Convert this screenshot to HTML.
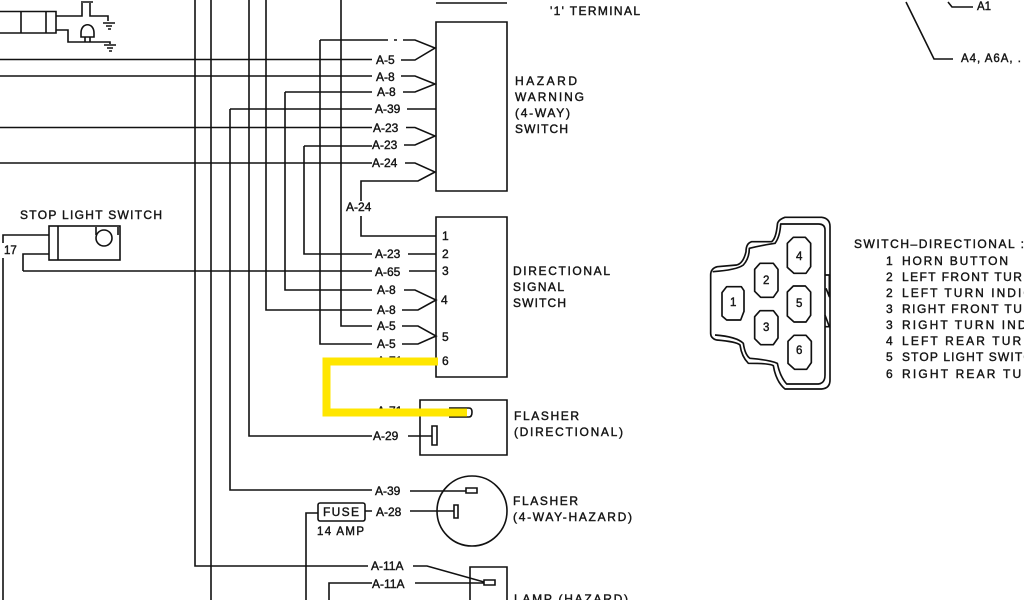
<!DOCTYPE html>
<html><head><meta charset="utf-8"><style>
html,body{margin:0;padding:0;background:#fff;width:1024px;height:600px;overflow:hidden}
svg{display:block}
text{font-family:"Liberation Sans",sans-serif;font-size:12px;fill:#141414;font-weight:400;stroke:#141414;stroke-width:.4}
.w{fill:none;stroke:#111;stroke-width:1.6}
.n{font-size:11.5px}
.all{filter:blur(.35px)}
</style></head><body>
<svg width="1024" height="600" viewBox="0 0 1024 600" xmlns="http://www.w3.org/2000/svg">
<rect width="1024" height="600" fill="#fff"/>
<g class="all">
<g class="w">
<path d="M195 0V566H368M211 0V600M249 0V436H372M266 0V310H372M230 109V490H372M285 92V290H372M304 146V254H372M320 40V344H372M341 0V326H372"/>
<path d="M230 109H372M285 92H372M304 146H372M320 40H388M394 40H397M403 40H415L435 48L415 60H401M0 59.500H372"/>
<path d="M0 76H372M401 76H415L435 84L415 92H403M0 127.500H372M0 163H372M407 109H436"/>
<path d="M406 127.500H415L435 136L415 145H404M405 163H415L435 172L418 181H361V201M361 216V236H436M408 254H436M409 271H436M23 271H372"/>
<path d="M404 290H415L436 300L418 310H402M402 326H418L436 336L418 344H402"/>
<path d="M436 3H507M436 22H507V191H436ZM436 217H507V377H436ZM420 400H507V455H420ZM470 600V567H507V600"/>
<circle cx="472" cy="511" r="35"/>
<path d="M408 436H432M432 426h5v19h-5zM449 408H469Q472 408 472 412Q472 417 469 417H449M410 491H466M466 488h11v5h-11zM410 511H454M454 505h4v13h-4z"/>
<rect x="318" y="503" width="47" height="18" rx="2"/>
<path d="M318 513H306V600M365 511H372M413 566H427L484 582M415 583H484M484 580h11v5h-11zM372 583H329V600"/>
<rect x="49" y="226" width="71" height="34"/><path d="M58 226V260M96 227v8M118 227v8M3 243V235H49M3 258V600M49 254H23V271"/>
<circle cx="104" cy="238" r="8"/>
<path d="M0 11.500H56V33H0M21 11.500V33M46 11.500V33M56 16H82V3M81 2H93M90 3V16H108V21M56 30H68V42H110V44M103 23h12M106 26h6M108 29h3M104 45h12M107 48h6M109 51h3"/>
<path d="M81 33C81 22 94 22 94 33V37H81ZM85 37V42M90 37V42"/>
<path d="M906 2L934 59H953M948 2L952 7H973"/>
</g>
<text x="377" y="365" fill-opacity=".9">A-71</text>
<text x="377" y="415">A-71</text>
<path d="M438 361.500H326.500V412.500H467" fill="none" stroke="#ffe600" stroke-width="8"/>
<text x="376" y="64">A-5</text><text x="376" y="81">A-8</text><text x="377" y="96">A-8</text>
<text x="375" y="113">A-39</text><text x="373" y="132">A-23</text><text x="372" y="149">A-23</text>
<text x="372" y="167">A-24</text><text x="346" y="211">A-24</text><text x="375" y="258">A-23</text>
<text x="375" y="276">A-65</text><text x="377" y="294">A-8</text><text x="377" y="314">A-8</text>
<text x="377" y="330">A-5</text><text x="377" y="348">A-5</text>
<text x="373" y="440">A-29</text><text x="375" y="495">A-39</text><text x="376" y="516">A-28</text>
<text x="371" y="570">A-11A</text><text x="372" y="588">A-11A</text>
<text x="442" y="240">1</text><text x="442" y="258">2</text><text x="442" y="275">3</text>
<text x="441" y="304">4</text><text x="442" y="341">5</text><text x="442" y="365">6</text>
<text x="515" y="85" textLength="62" lengthAdjust="spacing">HAZARD</text>
<text x="515" y="101" textLength="69" lengthAdjust="spacing">WARNING</text>
<text x="515" y="117" textLength="55" lengthAdjust="spacing">(4-WAY)</text>
<text x="515" y="133" textLength="53" lengthAdjust="spacing">SWITCH</text>
<text x="513" y="275" textLength="97" lengthAdjust="spacing">DIRECTIONAL</text>
<text x="513" y="291" textLength="51" lengthAdjust="spacing">SIGNAL</text>
<text x="513" y="307" textLength="53" lengthAdjust="spacing">SWITCH</text>
<text x="514" y="420" textLength="65" lengthAdjust="spacing">FLASHER</text>
<text x="514" y="436" textLength="109" lengthAdjust="spacing">(DIRECTIONAL)</text>
<text x="513" y="505" textLength="65" lengthAdjust="spacing">FLASHER</text>
<text x="513" y="521" textLength="119" lengthAdjust="spacing">(4-WAY-HAZARD)</text>
<text x="514" y="603" textLength="114" lengthAdjust="spacing">LAMP (HAZARD)</text>
<text x="550" y="15" textLength="90" lengthAdjust="spacing">'1' TERMINAL</text>
<text x="20" y="219" textLength="142" lengthAdjust="spacing">STOP LIGHT SWITCH</text>
<text x="4" y="254" class="n">17</text>
<text x="323" y="516" textLength="36" lengthAdjust="spacing">FUSE</text>
<text x="317" y="535" class="n" textLength="47" lengthAdjust="spacing">14 AMP</text>
<text x="977" y="10" class="n">A1</text>
<text x="961" y="62" class="n" textLength="60" lengthAdjust="spacing">A4, A6A, .</text>
<g transform="translate(690 200) scale(.33333)">
<g fill="none" stroke="#111" stroke-width="5" stroke-linejoin="round">
<path d="M82 200Q62 205 62 225V400Q62 415 80 420Q140 425 150 435Q155 470 175 490Q240 490 250 497Q258 545 285 567H395Q420 565 420 540V80Q420 55 395 52H285Q262 60 262 75Q258 115 245 125H185Q168 130 168 155Q160 190 140 195Z"/>
<path d="M68 215Q140 210 160 195Q178 175 178 145Q220 135 255 130Q270 110 272 72H385Q405 72 405 90V525Q405 550 385 552H290Q270 530 262 490Q240 480 180 475Q165 465 160 430Q140 410 75 405"/>
<path d="M405 225H418V290L408 265M405 345L418 380H405"/>
<path d="M110 260h44l8 12v62l-10 26h-42l-14-12v-70z"/>
<path d="M210 190h40l14 18v64l-14 20h-38l-18-18v-66z"/>
<path d="M210 332h40l14 18v64l-14 20h-38l-18-18v-66z"/>
<path d="M310 112h36l16 18v70l-14 20h-36l-20-18v-72z"/>
<path d="M310 258h36l16 18v70l-14 20h-36l-20-18v-72z"/>
<path d="M312 406h36l16 18v64l-14 20h-36l-20-18v-66z"/>
</g>
</g>
<text x="730" y="306" class="n">1</text><text x="763" y="284" class="n">2</text><text x="763" y="331" class="n">3</text>
<text x="796" y="260" class="n">4</text><text x="796" y="307" class="n">5</text><text x="796" y="354" class="n">6</text>
<text x="854" y="248" textLength="170" lengthAdjust="spacing">SWITCH–DIRECTIONAL :</text>
<text x="886" y="265">1</text><text x="902" y="265" textLength="106" lengthAdjust="spacing">HORN BUTTON</text>
<text x="886" y="281">2</text><text x="902" y="281" textLength="130" lengthAdjust="spacing">LEFT FRONT TURN</text>
<text x="886" y="297">2</text><text x="902" y="297" textLength="130" lengthAdjust="spacing">LEFT TURN INDIC</text>
<text x="886" y="313">3</text><text x="902" y="313" textLength="130" lengthAdjust="spacing">RIGHT FRONT TUR</text>
<text x="886" y="329">3</text><text x="902" y="329" textLength="130" lengthAdjust="spacing">RIGHT TURN INDI</text>
<text x="886" y="345">4</text><text x="902" y="345" textLength="130" lengthAdjust="spacing">LEFT REAR TURN</text>
<text x="886" y="361">5</text><text x="902" y="361" textLength="130" lengthAdjust="spacing">STOP LIGHT SWITC</text>
<text x="886" y="378">6</text><text x="902" y="378" textLength="130" lengthAdjust="spacing">RIGHT REAR TUR</text>
</g>
</svg>
</body></html>
